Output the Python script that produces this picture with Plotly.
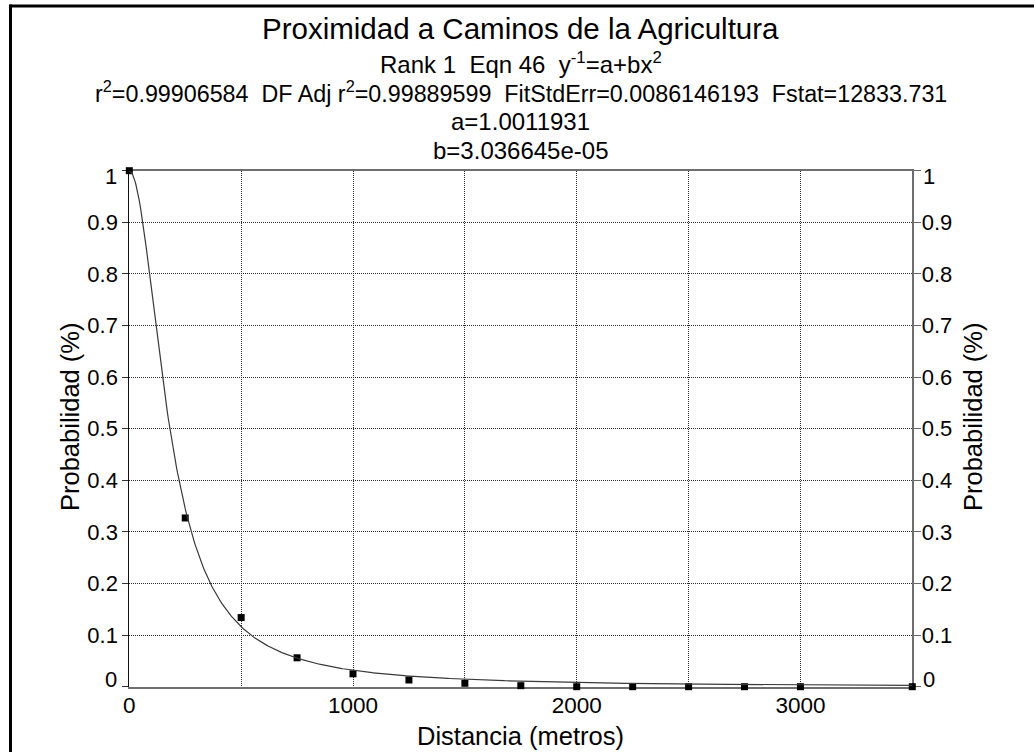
import plotly.graph_objects as go

W, H = 1034, 752

# ---- text ----
title_main = "Proximidad a Caminos de la Agricultura"
title_lines = [
    "Rank 1\u00a0 Eqn 46\u00a0 y<sup>-1</sup>=a+bx<sup>2</sup>",
    "r<sup>2</sup>=0.99906584\u00a0 DF Adj r<sup>2</sup>=0.99889599\u00a0 FitStdErr=0.0086146193\u00a0 Fstat=12833.731",
    "a=1.0011931",
    "b=3.036645e-05",
]
x_title = "Distancia (metros)"
y_title = "Probabilidad (%)"

# ---- data ----
x_dist = [0, 250, 500, 750, 1000, 1250, 1500, 1750, 2000, 2250, 2500, 2750, 3000, 3500]
y_prob = [1.0, 0.327, 0.134, 0.056, 0.025, 0.013, 0.0066, 0.002, 0.0, 0.0, 0.0, 0.0, 0.0, 0.0]

# fitted model parameters printed on the chart: y^-1 = a + b x^2
fit_a = 1.0011931
fit_b = 3.036645e-05
fit_x = [i * 5 for i in range(701)]
fit_y = [1.0 / (fit_a + fit_b * x * x) for x in fit_x]

# ---- ticks ----
x_tick_vals = [0, 500, 1000, 1500, 2000, 2500, 3000]
x_tick_labels = ["0", "", "1000", "", "2000", "", "3000"]
y_tick_vals = [0, 0.1, 0.2, 0.3, 0.4, 0.5, 0.6, 0.7, 0.8, 0.9, 1]
y_tick_labels = ["0", "0.1", "0.2", "0.3", "0.4", "0.5", "0.6", "0.7", "0.8", "0.9", "1"]

FONT = "Liberation Sans, Arial, sans-serif"
Y_MIN, Y_MAX = 0, 1


def px(x):
    return x / W


def py(y):
    return 1 - y / H


# end labels (0 and 1) are nudged inside the axis span, as in the original
inner_ticktext = ["" if v in (Y_MIN, Y_MAX) else t for v, t in zip(y_tick_vals, y_tick_labels)]

fig = go.Figure()
# fitted curve drawn on the mirrored right axis (same 0..1 range)
fig.add_trace(go.Scatter(
    x=fit_x, y=fit_y, mode="lines", yaxis="y2",
    line=dict(color="#3a3a3a", width=1.2),
    hoverinfo="skip", showlegend=False, cliponaxis=False,
))
fig.add_trace(go.Scatter(
    x=x_dist, y=y_prob, mode="markers",
    marker=dict(symbol="square", size=7, color="black", line=dict(width=0)),
    showlegend=False, cliponaxis=False,
))

grid = dict(showgrid=True, gridcolor="#2a2a2a", gridwidth=1, griddash="1px,1px")

fig.update_layout(
    width=W, height=H, autosize=False,
    margin=dict(l=0, r=0, t=0, b=0, pad=0),
    paper_bgcolor="white", plot_bgcolor="white",
    showlegend=False,
    xaxis=dict(
        domain=[px(129.3), px(912.3)], range=[0, 3500], automargin=False,
        tickmode="array", tickvals=x_tick_vals, ticktext=x_tick_labels,
        ticks="", ticklen=0, ticklabelstandoff=-3,
        showline=True, linecolor="#6e6e6e", linewidth=2, mirror=True,
        zeroline=False, layer="below traces",
        tickfont=dict(family=FONT, size=22.5, color="black"),
        **grid,
    ),
    yaxis=dict(
        domain=[py(686.7), py(170.7)], range=[Y_MIN, Y_MAX], automargin=False,
        tickmode="array", tickvals=y_tick_vals, ticktext=inner_ticktext,
        ticks="outside", ticklen=6, tickcolor="#333", tickwidth=1,
        showline=True, linecolor="#111", linewidth=1,
        zeroline=False, layer="below traces",
        tickfont=dict(family=FONT, size=22, color="black"),
        **grid,
    ),
    yaxis2=dict(
        overlaying="y", side="right", anchor="x", range=[Y_MIN, Y_MAX], automargin=False,
        tickmode="array", tickvals=y_tick_vals, ticktext=inner_ticktext,
        ticks="outside", ticklen=7, tickcolor="#666", tickwidth=1, ticklabelstandoff=-4,
        showline=True, linecolor="#6e6e6e", linewidth=2,
        showgrid=False, zeroline=False, layer="below traces",
        tickfont=dict(family=FONT, size=22, color="black"),
    ),
)

annotations = []
cx = px(520.5)
annotations.append(dict(text=title_main, x=cx, y=py(28), xref="paper", yref="paper",
                        xanchor="center", yanchor="middle", showarrow=False,
                        font=dict(family=FONT, size=29.5, color="black")))
line_centers = [62.6, 92, 121.5, 150.5]
line_sizes = [24, 23.3, 24, 24]
for t, yc, fs in zip(title_lines, line_centers, line_sizes):
    annotations.append(dict(text=t, x=cx, y=py(yc), xref="paper", yref="paper",
                            xanchor="center", yanchor="middle", showarrow=False,
                            font=dict(family=FONT, size=fs, color="black")))
annotations.append(dict(text=x_title, x=cx, y=py(736), xref="paper", yref="paper",
                        xanchor="center", yanchor="middle", showarrow=False,
                        font=dict(family=FONT, size=25.5, color="black")))
annotations.append(dict(text=y_title, x=px(70), y=py(417), xref="paper", yref="paper",
                        xanchor="center", yanchor="middle", textangle=-90, showarrow=False,
                        font=dict(family=FONT, size=25.5, color="black")))
annotations.append(dict(text=y_title, x=px(973), y=py(417), xref="paper", yref="paper",
                        xanchor="center", yanchor="middle", textangle=-90, showarrow=False,
                        font=dict(family=FONT, size=25.5, color="black")))

# end tick labels (0 and 1) on both y axes, nudged inward
for v, t in zip(y_tick_vals, y_tick_labels):
    if v not in (Y_MIN, Y_MAX):
        continue
    shift = -6 if v == Y_MAX else 7.5
    annotations.append(dict(text=t, x=px(129.3), y=v, xref="paper", yref="y",
                            xanchor="right", yanchor="middle", xshift=-11, yshift=shift,
                            borderpad=0, showarrow=False,
                            font=dict(family=FONT, size=22, color="black")))
    annotations.append(dict(text=t, x=px(912.3), y=v, xref="paper", yref="y",
                            xanchor="left", yanchor="middle", xshift=9.5, yshift=shift,
                            borderpad=0, showarrow=False,
                            font=dict(family=FONT, size=22, color="black")))
fig.update_layout(annotations=annotations)

# outer frame (top and left edges of the window border)
fig.add_shape(type="line", xref="paper", yref="paper",
              x0=px(9.5), x1=1, y0=py(6), y1=py(6), line=dict(color="black", width=3))
fig.add_shape(type="line", xref="paper", yref="paper",
              x0=px(10.5), x1=px(10.5), y0=py(4.5), y1=0, line=dict(color="black", width=3))

fig.write_html("out.html")
